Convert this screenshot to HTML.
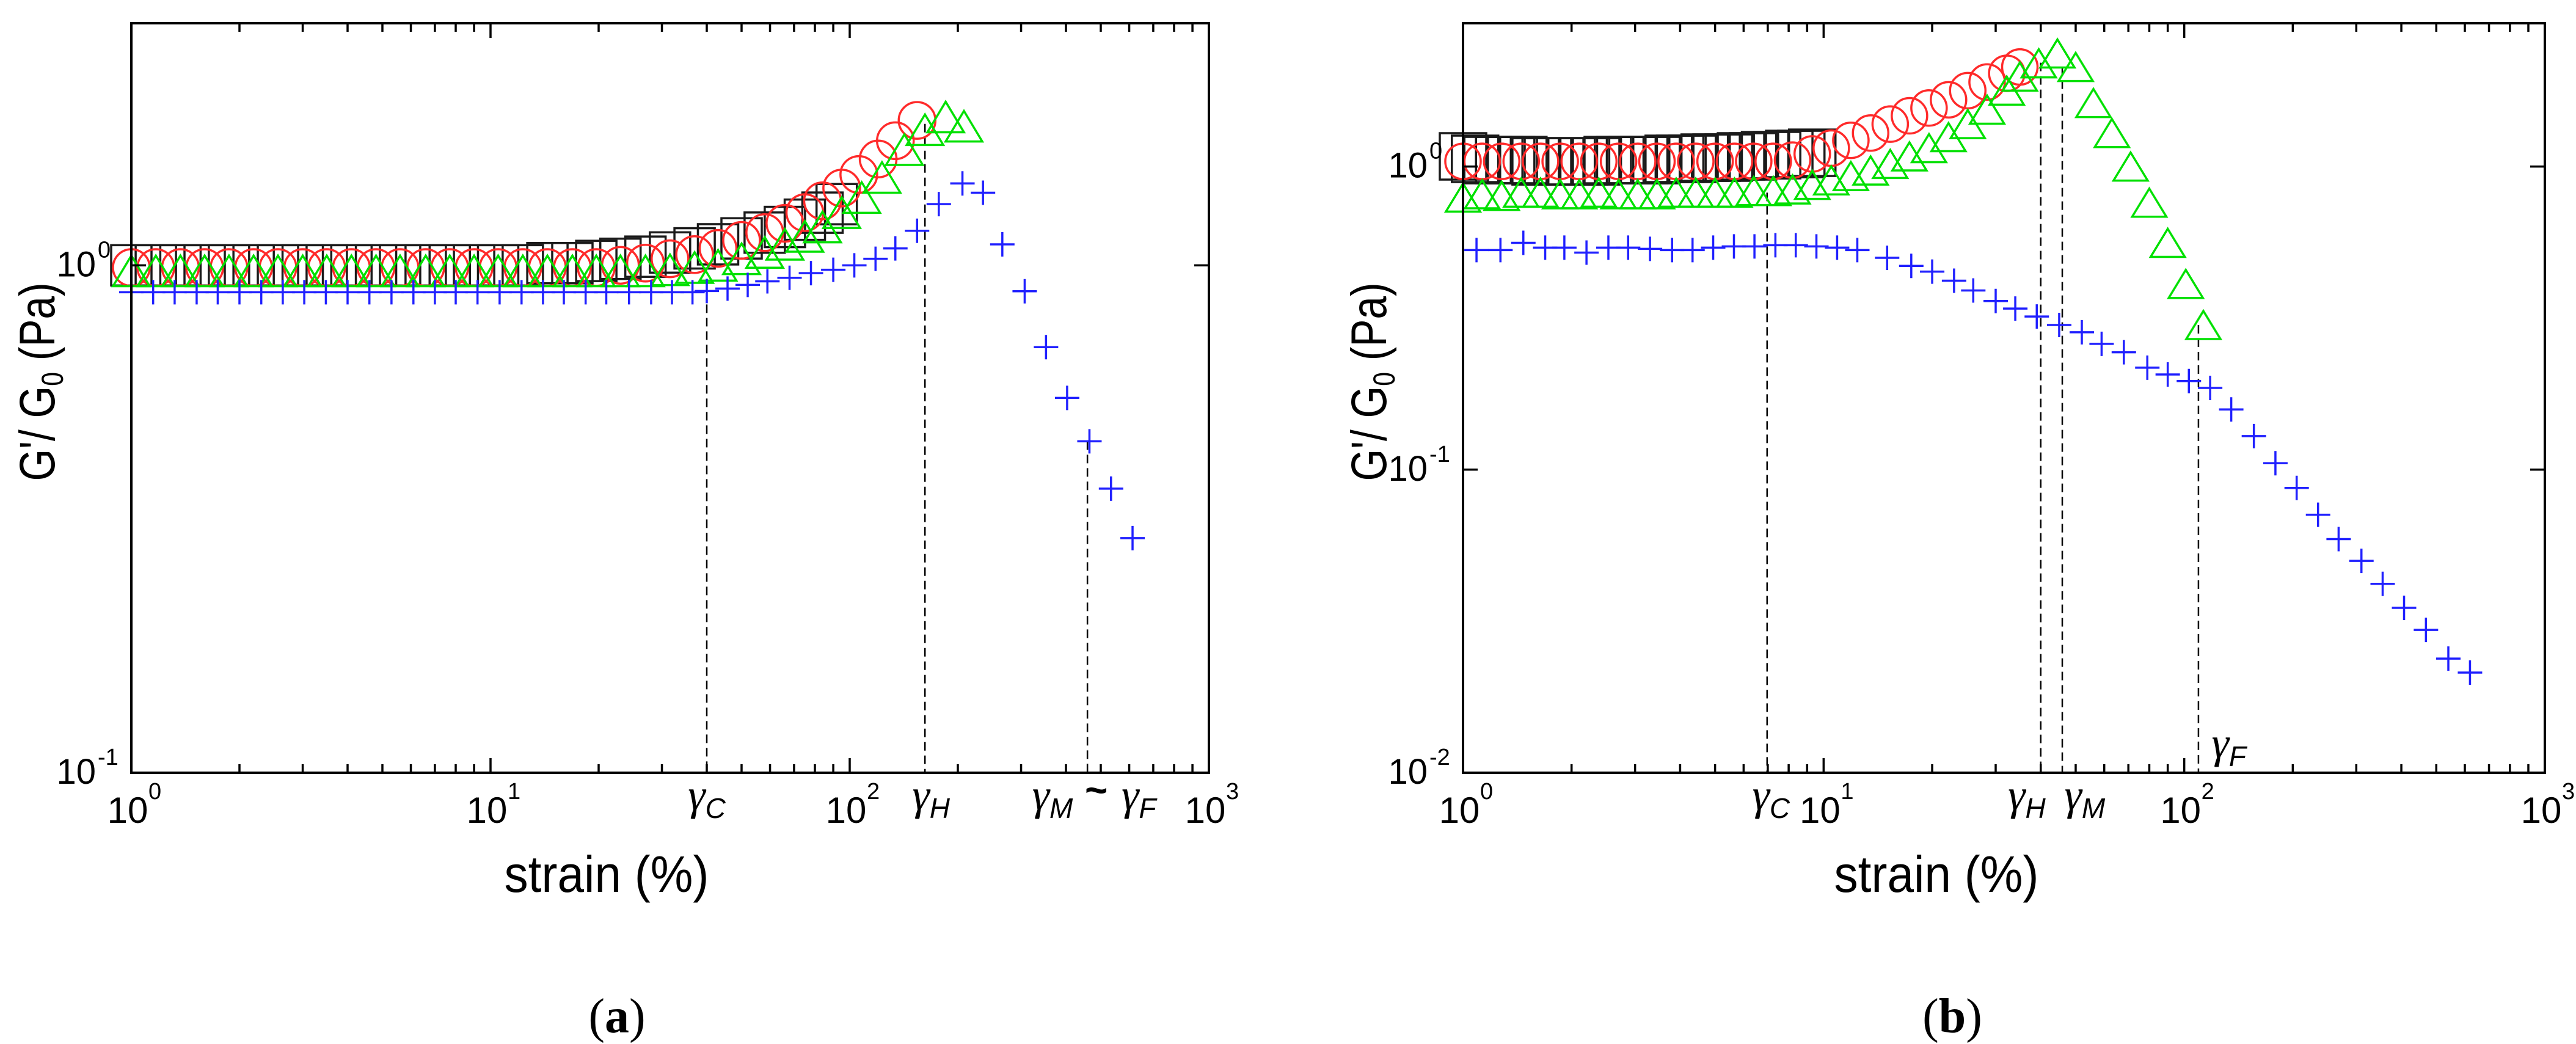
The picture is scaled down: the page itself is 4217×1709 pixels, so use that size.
<!DOCTYPE html>
<html><head><meta charset="utf-8"><style>
html,body{margin:0;padding:0;background:#fff;}
svg{display:block;font-family:"Liberation Sans",sans-serif;}
</style></head><body>
<svg id="fig" width="4217" height="1709" viewBox="0 0 4217 1709" xmlns="http://www.w3.org/2000/svg"></svg>
<script>
// ---------- Panel (a) data ----------
const aSquareX = [1,1.17,1.37,1.6,1.87,2.19,2.56,3,3.5,4.1,4.8,5.6,6.6,7.7,9,10.5,12.3,14.4,16.9,19.7,23,27,31.6,37,43,50,58,66,75,84,92];
const aSquareY = [1,1,1,1,1,1,1,1,1,1,1,1,1,1,1,1,1,1.01,1.01,1.02,1.03,1.04,1.06,1.08,1.1,1.13,1.16,1.19,1.23,1.27,1.32];
const aCircleX = [1,1.17,1.37,1.6,1.87,2.19,2.56,3,3.5,4.1,4.8,5.6,6.6,7.7,9,10.5,12.3,14.4,16.9,19.7,23,27,31.6,37,43,50,58,66,75,84,95,106,120,134,154];
const aCircleY = [0.99,0.99,0.99,0.99,0.99,0.99,0.99,0.99,0.99,0.99,0.99,0.99,0.99,0.99,0.99,0.99,0.99,0.99,0.99,0.99,1.0,1.01,1.03,1.05,1.08,1.12,1.16,1.21,1.27,1.34,1.42,1.51,1.62,1.76,1.93];
const aTriX = [1,1.17,1.37,1.6,1.87,2.19,2.56,3,3.5,4.1,4.8,5.6,6.6,7.7,9,10.5,12.3,14.4,16.9,19.7,23,27,31.6,37,43,50,58,66,75,84,95,108,123,142,162,185,208];
const aTriY = [0.975,0.975,0.975,0.975,0.975,0.975,0.975,0.975,0.975,0.975,0.975,0.975,0.975,0.975,0.975,0.975,0.975,0.975,0.975,0.975,0.975,0.975,0.98,0.99,1.0,1.03,1.06,1.1,1.14,1.19,1.27,1.36,1.49,1.69,1.85,1.96,1.88];
const aCrossX = [1,1.15,1.32,1.52,1.74,2,2.3,2.64,3.03,3.48,4,4.6,5.3,6.1,7,8,9.2,10.6,12.2,14,16,18.4,21,24.3,28,32,36.5,40,45.7,52,59,68,78,90,103,118,134,154,177,206,235,266,307,352,403,465,534,613];
const aCrossY = [0.885,0.885,0.885,0.885,0.885,0.885,0.885,0.885,0.885,0.885,0.885,0.885,0.885,0.885,0.885,0.885,0.885,0.885,0.885,0.885,0.885,0.885,0.885,0.885,0.885,0.885,0.885,0.89,0.9,0.915,0.93,0.945,0.965,0.98,1.0,1.03,1.08,1.17,1.32,1.45,1.39,1.1,0.889,0.69,0.548,0.45,0.363,0.29];
const aGuideX = [40,162,459];
const aGuideTop = [0.89,1.9,0.45];

// ---------- Panel (b) data ----------
const bSquareX = [1,1.08,1.17,1.26,1.36,1.47,1.59,1.72,1.86,2,2.16,2.34,2.52,2.73,2.95,3.18,3.44,3.72,4,4.33,4.68,5.05,5.46,5.9,6.37,6.88,7.43,8.03,8.67,9.3];
const bSquareY = [1.08,1.06,1.05,1.05,1.05,1.05,1.04,1.04,1.04,1.04,1.04,1.04,1.05,1.05,1.05,1.05,1.05,1.06,1.06,1.06,1.07,1.07,1.07,1.08,1.08,1.09,1.09,1.1,1.1,1.11];
const bCircleX = [1,1.13,1.28,1.45,1.64,1.86,2.1,2.38,2.7,3.05,3.45,3.9,4.42,5,5.66,6.4,7.25,8.2,9.3,10.5,11.9,13.5,15.3,17.3,19.6,22.2,25.1,28.4,32.2,35];
const bCircleY = [1.04,1.04,1.04,1.04,1.04,1.04,1.04,1.04,1.04,1.04,1.04,1.04,1.04,1.04,1.04,1.04,1.04,1.05,1.1,1.15,1.22,1.29,1.38,1.47,1.56,1.66,1.78,1.9,2.03,2.13];
const bTriX = [1,1.13,1.28,1.45,1.64,1.86,2.1,2.38,2.7,3.05,3.45,3.9,4.42,5,5.66,6.4,7.25,8.2,9.3,10.5,11.9,13.5,15.3,17.3,19.6,22.2,25.1,28.4,32.2,35,39.5,44.5,50,56,63,71,80,90,101,113];
const bTriY = [0.79,0.81,0.8,0.82,0.82,0.81,0.81,0.82,0.81,0.81,0.81,0.82,0.82,0.82,0.82,0.83,0.83,0.84,0.87,0.9,0.93,0.97,1.02,1.08,1.15,1.25,1.38,1.54,1.78,1.98,2.19,2.36,2.13,1.62,1.29,1.0,0.76,0.56,0.41,0.3];
const bCrossX = [1.09,1.27,1.47,1.69,1.91,2.2,2.53,2.87,3.3,3.8,4.33,4.94,5.64,6.43,7.35,8.37,9.55,10.9,12.4,15,17.5,20,23,26,30,34,39,45,52,59,68,79,90,103,118,135,156,179,205,235,268,310,355,407,468,540,620];
const bCrossY = [0.53,0.53,0.56,0.54,0.54,0.52,0.54,0.54,0.535,0.53,0.53,0.54,0.545,0.545,0.55,0.55,0.545,0.54,0.53,0.5,0.47,0.45,0.42,0.39,0.36,0.34,0.32,0.3,0.284,0.26,0.244,0.217,0.206,0.196,0.186,0.158,0.129,0.105,0.087,0.071,0.059,0.05,0.042,0.035,0.0296,0.0238,0.0214];
const bGuideX = [6.97,40,45.9,109.5];
const bGuideTop = [0.82,2.2,2.13,0.3];

const xDecades = [1,10,100,1000];
const aYDecades = [0.1,1];
const bYDecades = [0.01,0.1,1];

const NS = "http://www.w3.org/2000/svg";
const SERIF = 'font-family:"Liberation Serif",serif';
const svg = document.getElementById('fig');
function mk(tag, attrs, parent){
  const e = document.createElementNS(NS, tag);
  for (const k in attrs) e.setAttribute(k, attrs[k]);
  (parent||svg).appendChild(e);
  return e;
}
function makeAxis(left,right,top,bottom,xmin,xmax,ymin,ymax){
  const lx0=Math.log10(xmin), lx1=Math.log10(xmax), ly0=Math.log10(ymin), ly1=Math.log10(ymax);
  return {
    left,right,top,bottom,
    x: v => left + (Math.log10(v)-lx0)/(lx1-lx0)*(right-left),
    y: v => bottom - (Math.log10(v)-ly0)/(ly1-ly0)*(bottom-top)
  };
}
const A = makeAxis(215,1979,38,1265,1,1000,0.1,3.0);
const B = makeAxis(2395,4166,38,1265,1,1000,0.01,2.97);

function drawSquares(ax,xs,ys,size,name,g){
  xs.forEach((v,i)=>{
    const e = mk('rect',{x:ax.x(v)-size/2,y:ax.y(ys[i])-size/2,width:size,height:size,fill:'none',stroke:'#1a1a1a','stroke-width':3.5},g);
    
    
  });
}
function drawCircles(ax,xs,ys,r,name,g){
  xs.forEach((v,i)=>{
    const e = mk('ellipse',{cx:ax.x(v),cy:ax.y(ys[i]),rx:r,ry:r,fill:'none',stroke:'#ff2a2a','stroke-width':3.5},g);
    
    
  });
}
function drawTris(ax,xs,ys,w,h,name,g){
  xs.forEach((v,i)=>{
    const cx=ax.x(v), cy=ax.y(ys[i]);
    const e = mk('polygon',{points:`${cx-w/2},${cy+h/2} ${cx+w/2},${cy+h/2} ${cx},${cy-h/2}`,fill:'none',stroke:'#00e000','stroke-width':3.5},g);
    
    
  });
}
function drawCrosses(ax,xs,ys,s,name,g){
  xs.forEach((v,i)=>{
    const cx=ax.x(v), cy=ax.y(ys[i]);
    const e = mk('path',{d:`M${cx-s/2},${cy}H${cx+s/2}M${cx},${cy-s/2}V${cy+s/2}`,stroke:'#2020ff','stroke-width':3.5,fill:'none'},g);
    
    
  });
}
function drawGuides(ax,xs,tops,name,g){
  xs.forEach((v,i)=>{
    const e = mk('line',{x1:ax.x(v),x2:ax.x(v),y1:ax.y(tops[i]),y2:ax.bottom,stroke:'#000','stroke-width':2.5,'stroke-dasharray':'14,8'},g);
    
    
  });
}
function drawFrame(ax,yDec,g){
  const f = mk('rect',{x:ax.left,y:ax.top,width:ax.right-ax.left,height:ax.bottom-ax.top,fill:'none',stroke:'#000','stroke-width':4},g);
  
  
  for (let d=0; d<3; d++){
    for (let m=1; m<=9; m++){
      const v = xDecades[d]*m;
      const X = ax.x(v);
      const L = m===1?24:14;
      if (m===1 && d===0) continue;
      const t1 = mk('line',{x1:X,x2:X,y1:ax.bottom,y2:ax.bottom-L,stroke:'#000','stroke-width':3.5},g);
      
      
      const t2 = mk('line',{x1:X,x2:X,y1:ax.top,y2:ax.top+L,stroke:'#000','stroke-width':3.5},g);
      
      
    }
  }
  xDecades.forEach((v,i)=>{
    const X = ax.x(v);
    const t = mk('text',{x:X-6,y:1347,'font-size':60,'text-anchor':'middle'},g);
    t.textContent='10';
    
    
    const s = mk('text',{x:X+28,y:1308,'font-size':38,'text-anchor':'start'},g);
    s.textContent=String(i);
    
    
  });
  yDec.forEach(v=>{
    const Y = ax.y(v);
    [[ax.left,ax.left+24],[ax.right,ax.right-24]].forEach(p=>{
      const t = mk('line',{x1:p[0],x2:p[1],y1:Y,y2:Y,stroke:'#000','stroke-width':3.5},g);
      
      
    });
    const exp = Math.round(Math.log10(v));
    const t = mk('text',{x:ax.left-58,y:Y+18,'font-size':58,'text-anchor':'end'},g);
    t.textContent='10';
    
    
    const s = mk('text',{x:ax.left-55,y:Y-13,'font-size':38,'text-anchor':'start'},g);
    s.textContent=String(exp);
    
    
  });
}
function gammaLabel(ax,v,sub,y,g,dx){
  const t = mk('text',{x:ax.x(v)+(dx||0),y:y,'font-size':72,'text-anchor':'middle'},g);
  
  
  const a = mk('tspan',{style:SERIF+';font-style:italic'},t);
  a.textContent='γ';
  const b = mk('tspan',{'font-size':46,'font-style':'italic',dy:14},t);
  b.textContent=sub;
}
function titles(ax,cx,capX,cap,g){
  const xt = mk('text',{x:cx,y:1460,'font-size':84,'text-anchor':'middle',textLength:335,lengthAdjust:'spacingAndGlyphs'},g);
  xt.textContent='strain (%)';
  
  
  const yx = ax.left-126;
  const yt = mk('text',{x:0,y:0,'font-size':82,'text-anchor':'middle',textLength:325,lengthAdjust:'spacingAndGlyphs',transform:`translate(${yx},625) rotate(-90)`},g);
  
  
  const p1 = mk('tspan',{},yt); p1.textContent="G'/ G";
  const p2 = mk('tspan',{'font-size':50,dy:14},yt); p2.textContent="0";
  const p3 = mk('tspan',{dy:-14},yt); p3.textContent=" (Pa)";
  const c = mk('text',{x:capX,y:1690,'font-size':80,style:SERIF,'text-anchor':'middle'},g);
  
  
  const c1 = mk('tspan',{},c); c1.textContent='(';
  const c2 = mk('tspan',{'font-weight':'bold'},c); c2.textContent=cap;
  const c3 = mk('tspan',{},c); c3.textContent=')';
}

// Panel a
const gA = mk('g',{});


drawGuides(A,aGuideX,aGuideTop,'strain-guide-line',gA);
drawSquares(A,aSquareX,aSquareY,66,'square-marker',gA);
drawCircles(A,aCircleX,aCircleY,30,'circle-marker',gA);
drawTris(A,aTriX,aTriY,60,50,'triangle-marker',gA);
drawCrosses(A,aCrossX,aCrossY,40,'cross-marker',gA);
drawFrame(A,aYDecades,gA);
gammaLabel(A,40,'C',1325,gA,0);
gammaLabel(A,162,'H',1325,gA,10);
gammaLabel(A,367,'M',1325,gA,0);
const tl = mk('text',{x:A.x(486),y:1315,'font-size':64,'font-weight':'bold','text-anchor':'middle'},gA);
tl.textContent='~';


gammaLabel(A,638,'F',1325,gA,0);
titles(A,993,1010,'a',gA);

// Panel b
const gB = mk('g',{});


drawGuides(B,bGuideX,bGuideTop,'strain-guide-line',gB);
drawSquares(B,bSquareX,bSquareY,76,'square-marker',gB);
drawCircles(B,bCircleX,bCircleY,29,'circle-marker',gB);
drawTris(B,bTriX,bTriY,56,46,'triangle-marker',gB);
drawCrosses(B,bCrossX,bCrossY,40,'cross-marker',gB);
drawFrame(B,bYDecades,gB);
gammaLabel(B,7.15,'C',1325,gB,0);
gammaLabel(B,36.6,'H',1325,gB,0);
gammaLabel(B,53,'M',1325,gB,0);
gammaLabel(B,133,'F',1240,gB,0);
titles(B,3170,3196,'b',gB);
</script>
</body></html>
